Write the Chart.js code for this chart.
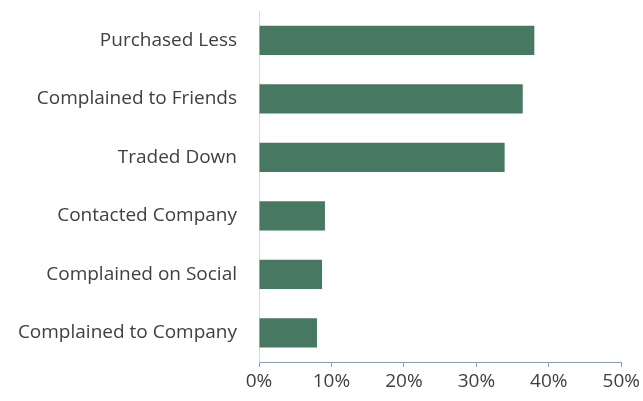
<!DOCTYPE html>
<html>
<head>
<meta charset="utf-8">
<script src="https://cdn.jsdelivr.net/npm/chart.js@4"></script>
<style>
  html, body { margin: 0; padding: 0; background: #fff; }
</style>
</head>
<body>
<canvas id="chart" width="643" height="401"></canvas>
<script>
const categories = [
  'Purchased Less',
  'Complained to Friends',
  'Traded Down',
  'Contacted Company',
  'Complained on Social',
  'Complained to Company'
];
const shares = [38, 36.4, 33.9, 9.1, 8.7, 8];
const xTicks = [0, 10, 20, 30, 40, 50];

Chart.defaults.font.family = '"Open Sans", Lato, sans-serif';
Chart.defaults.font.size = 19;
Chart.defaults.color = '#404040';

new Chart(document.getElementById('chart'), {
  type: 'bar',
  data: {
    labels: categories,
    datasets: [{
      data: shares,
      backgroundColor: '#477862',
      borderWidth: 0,
      categoryPercentage: 1,
      barPercentage: 0.5
    }]
  },
  options: {
    indexAxis: 'y',
    responsive: false,
    devicePixelRatio: 1,
    animation: false,
    layout: { padding: { top: 11, right: 21, left: 0, bottom: 0 } },
    plugins: {
      legend: { display: false },
      tooltip: { enabled: false }
    },
    scales: {
      x: {
        min: 0,
        max: 50,
        afterBuildTicks: axis => { axis.ticks = xTicks.map(v => ({ value: v })); },
        afterFit: axis => { axis.height = 39; },
        grid: {
          drawOnChartArea: false,
          drawTicks: true,
          tickLength: 5,
          color: '#8a9bb3'
        },
        border: { color: '#8a9bb3', width: 1 },
        ticks: {
          padding: 3,
          maxRotation: 0,
          autoSkip: false,
          callback: v => v + '%'
        }
      },
      y: {
        afterFit: axis => {
          axis.width = 259;
          axis.paddingTop = 0;
          axis.paddingBottom = 0;
        },
        grid: { display: false },
        border: { color: '#d9d9d9', width: 1 },
        ticks: { padding: 14, autoSkip: false }
      }
    }
  }
});
</script>
</body>
</html>
